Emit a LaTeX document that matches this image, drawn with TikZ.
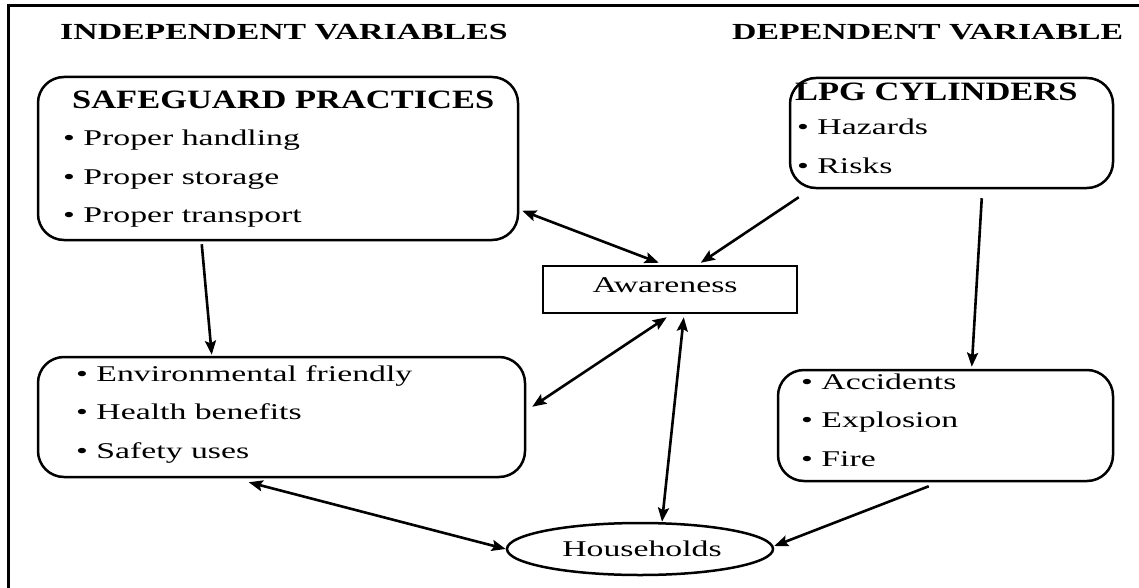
\documentclass[tikz,border=0pt]{standalone}
\usepackage{fontspec}
\setmainfont{Liberation Serif}[FakeStretch=1.5]
\newfontfamily\titlefont{Liberation Serif}[FakeStretch=1.3]
\newfontfamily\headfont{Liberation Serif}[FakeStretch=1.47]
\usetikzlibrary{arrows.meta,calc,shapes.geometric}
\begin{document}
\begin{tikzpicture}[x=1pt,y=-1pt,
  box/.style={draw,line width=2.5pt,rounded corners=26pt,inner sep=0pt},
  rbox/.style={draw,line width=2.5pt,inner sep=0pt},
  itm/.style={anchor=base west,inner sep=0pt,font=\fontsize{22.5}{26}\selectfont},
  ttl/.style={anchor=base west,inner sep=0pt,font=\titlefont\bfseries\fontsize{26.5}{30}\selectfont},
  hd/.style={anchor=base west,inner sep=0pt,font=\headfont\bfseries\fontsize{23}{27}\selectfont},
  arr/.style={line width=2.6pt,-{Stealth[length=14pt,width=11pt,inset=2.5pt]}},
  darr/.style={line width=2.6pt,{Stealth[length=14pt,width=11pt,inset=2.5pt]}-{Stealth[length=14pt,width=11pt,inset=2.5pt]}}]
\useasboundingbox (0,0) rectangle (1139,588);
\fill[white] (0,0) rectangle (1139,588);
% frame
\draw[line width=3pt] (8,588) -- (8,6) -- (1139,6);
% headings
\node[hd] (hind) at (60,40) {INDEPENDENT VARIABLES};
\node[hd] (hdep) at (732,40) {DEPENDENT VARIABLE};
% boxes
\node[box,minimum width=480pt,minimum height=163pt] (sg) at (278,158.5) {};
\node[box,minimum width=323pt,minimum height=110pt] (lpg) at (951.5,133) {};
\node[rbox,minimum width=254pt,minimum height=47pt] (aw) at (670,289.5) {};
\node[box,minimum width=487pt,minimum height=120pt] (env) at (281.5,417) {};
\node[box,minimum width=335pt,minimum height=111pt] (acc) at (945.5,425.5) {};
\node[draw,ellipse,line width=2.5pt,inner sep=0pt,minimum width=266pt,minimum height=52pt] (hh) at (640,549) {};
% texts
\node[ttl] (sgt) at (72,108.5) {SAFEGUARD PRACTICES};
\node[itm] (sg1) at (63,146) {• Proper handling};
\node[itm] (sg2) at (63,184) {• Proper storage};
\node[itm] (sg3) at (63,222) {• Proper transport};
\node[ttl] (lpgt) at (795,101) {LPG CYLINDERS};
\node[itm] (lpg1) at (797,135) {• Hazards};
\node[itm] (lpg2) at (797,173) {• Risks};
\node[itm,anchor=base] (awt) at (665,292) {Awareness};
\node[itm] (env1) at (76,381) {• Environmental friendly};
\node[itm] (env2) at (76,419) {• Health benefits};
\node[itm] (env3) at (76,458) {• Safety uses};
\node[itm] (acc1) at (801,389) {• Accidents};
\node[itm] (acc2) at (801,427) {• Explosion};
\node[itm] (acc3) at (801,466) {• Fire};
\node[itm,anchor=base] (hht) at (642,556) {Households};
% connectors
\draw[arr] ($(sg.south west)+(165,3)$) -- ($(env.north west)+(175,-1)$);
\draw[darr] ($(sg.north east)+(3,135)$) -- ($(aw.north west)+(117,-2)$);
\draw[arr] ($(lpg.south west)+(10,8)$) -- ($(aw.north west)+(159,-2)$);
\draw[arr] ($(lpg.south west)+(193,9)$) -- ($(acc.north west)+(195,-2)$);
\draw[darr] ($(env.north east)+(6,51)$) -- ($(aw.south west)+(125,3)$);
\draw[darr] ($(aw.south west)+(142,3)$) -- ($(hh.north)+(22,0)$);
\draw[darr] ($(env.south west)+(212,4)$) -- (hh.west);
\draw[arr] ($(acc.south west)+(152,4)$) -- ($(hh.east)+(0,-3)$);
\end{tikzpicture}
\end{document}
